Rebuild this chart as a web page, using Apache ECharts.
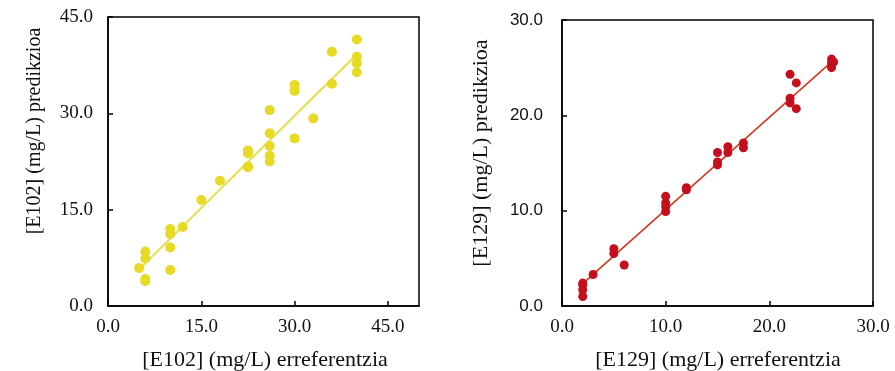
<!DOCTYPE html>
<html>
<head>
<meta charset="utf-8">
<script src="https://cdn.jsdelivr.net/npm/echarts@6/dist/echarts.min.js"></script>
<style>html,body{margin:0;padding:0;background:#fff;}#c{width:895px;height:371px;}</style>
</head>
<body>
<div id="c"></div>
<script>
// E102 (left panel): reference vs predicted
const e102Ref  = [5, 6, 6, 6, 6, 10, 10, 10, 10, 12, 15, 18, 22.5, 22.5, 22.5, 22.5, 26, 26, 26, 26, 26, 30, 30, 30, 33, 36, 36, 40, 40, 40, 40];
const e102Pred = [5.9, 3.9, 4.2, 7.4, 8.5, 5.6, 9.1, 11.2, 12.0, 12.3, 16.5, 19.5, 21.6, 23.8, 24.2, 21.7, 22.5, 23.4, 24.9, 26.9, 30.5, 26.1, 33.5, 34.4, 29.2, 34.6, 39.6, 41.5, 38.8, 37.8, 36.4];
const e102FitX = [5, 40];
const e102FitY = [5.7, 39.2];

// E129 (right panel): reference vs predicted
const e129Ref  = [2, 2, 2, 2, 3, 5, 5, 6, 10, 10, 10, 10, 12, 12, 15, 15, 15, 16, 16, 17.5, 17.5, 22, 22.6, 22, 22, 22.6, 26, 26, 26, 26.2];
const e129Pred = [1.0, 1.7, 2.2, 2.4, 3.3, 5.5, 6.0, 4.3, 11.5, 10.8, 10.4, 9.9, 12.4, 12.2, 14.8, 15.1, 16.1, 16.1, 16.7, 17.1, 16.6, 24.3, 23.4, 21.8, 21.3, 20.7, 25.9, 25.5, 25.0, 25.6];
const e129FitX = [2, 26];
const e129FitY = [2.35, 25.6];

// Axis tick settings
const leftXTicks  = {min: 0, max: 50, interval: 15};
const leftYTicks  = {min: 0, max: 45, interval: 15};
const rightXTicks = {min: 0, max: 30, interval: 10};
const rightYTicks = {min: 0, max: 30, interval: 10};

const xTitleLeft  = '[E102] (mg/L) erreferentzia';
const yTitleLeft  = '[E102] (mg/L) predikzioa';
const xTitleRight = '[E129] (mg/L) erreferentzia';
const yTitleRight = '[E129] (mg/L) predikzioa';

const zip = (a, b) => a.map((v, i) => [v, b[i]]);
const serif = '"Liberation Serif", "Times New Roman", serif';
const sans = '"Liberation Sans", Arial, sans-serif';

function axis(gridIndex, ticks, font, size, margin, hideMax) {
  return {
    type: 'value', gridIndex: gridIndex,
    min: ticks.min, max: ticks.max, interval: ticks.interval,
    axisLine: {show: true, lineStyle: {color: '#000', width: 1.5}},
    axisTick: {show: true, inside: true, length: 5, lineStyle: {color: '#000', width: 1.5}},
    splitLine: {show: false},
    axisLabel: {
      fontFamily: font, fontSize: size, color: '#111', margin: margin,
      showMaxLabel: hideMax ? false : true,
      formatter: v => v.toFixed(1)
    }
  };
}

const chart = echarts.init(document.getElementById('c'), null, {renderer: 'canvas'});
chart.setOption({
  animation: false,
  backgroundColor: '#fff',
  grid: [
    {left: 108, top: 17, width: 311, height: 289, show: true, borderColor: '#000', borderWidth: 1.5, containLabel: false},
    {left: 562, top: 20, width: 311, height: 286, show: true, borderColor: '#000', borderWidth: 1.5, containLabel: false}
  ],
  xAxis: [
    axis(0, leftXTicks, serif, 19, 12, true),
    axis(1, rightXTicks, serif, 19, 12, false)
  ],
  yAxis: [
    axis(0, leftYTicks, serif, 19, 15, false),
    axis(1, rightYTicks, sans, 17, 19, false)
  ],
  series: [
    {type: 'line', xAxisIndex: 0, yAxisIndex: 0, data: zip(e102FitX, e102FitY), symbol: 'none',
     lineStyle: {color: '#E8DE4A', width: 2}, z: 2},
    {type: 'scatter', xAxisIndex: 0, yAxisIndex: 0, data: zip(e102Ref, e102Pred), symbolSize: 10,
     itemStyle: {color: '#E6DA24', opacity: 1}, z: 3},
    {type: 'line', xAxisIndex: 1, yAxisIndex: 1, data: zip(e129FitX, e129FitY), symbol: 'none',
     lineStyle: {color: '#D4361E', width: 1.6}, z: 2},
    {type: 'scatter', xAxisIndex: 1, yAxisIndex: 1, data: zip(e129Ref, e129Pred), symbolSize: 9,
     itemStyle: {color: '#C40F1C', opacity: 1}, z: 3}
  ],
  graphic: [
    {type: 'text', x: 265, y: 360, style: {text: xTitleLeft, font: '22px ' + serif, fill: '#111', textAlign: 'center', textVerticalAlign: 'middle'}},
    {type: 'text', x: 718, y: 360, style: {text: xTitleRight, font: '22px ' + serif, fill: '#111', textAlign: 'center', textVerticalAlign: 'middle'}},
    {type: 'text', x: 35, y: 131, rotation: Math.PI / 2, style: {text: yTitleLeft, font: '20px ' + serif, fill: '#111', textAlign: 'center', textVerticalAlign: 'middle'}},
    {type: 'text', x: 481, y: 153, rotation: Math.PI / 2, style: {text: yTitleRight, font: '22px ' + serif, fill: '#111', textAlign: 'center', textVerticalAlign: 'middle'}}
  ]
});
</script>
</body>
</html>
